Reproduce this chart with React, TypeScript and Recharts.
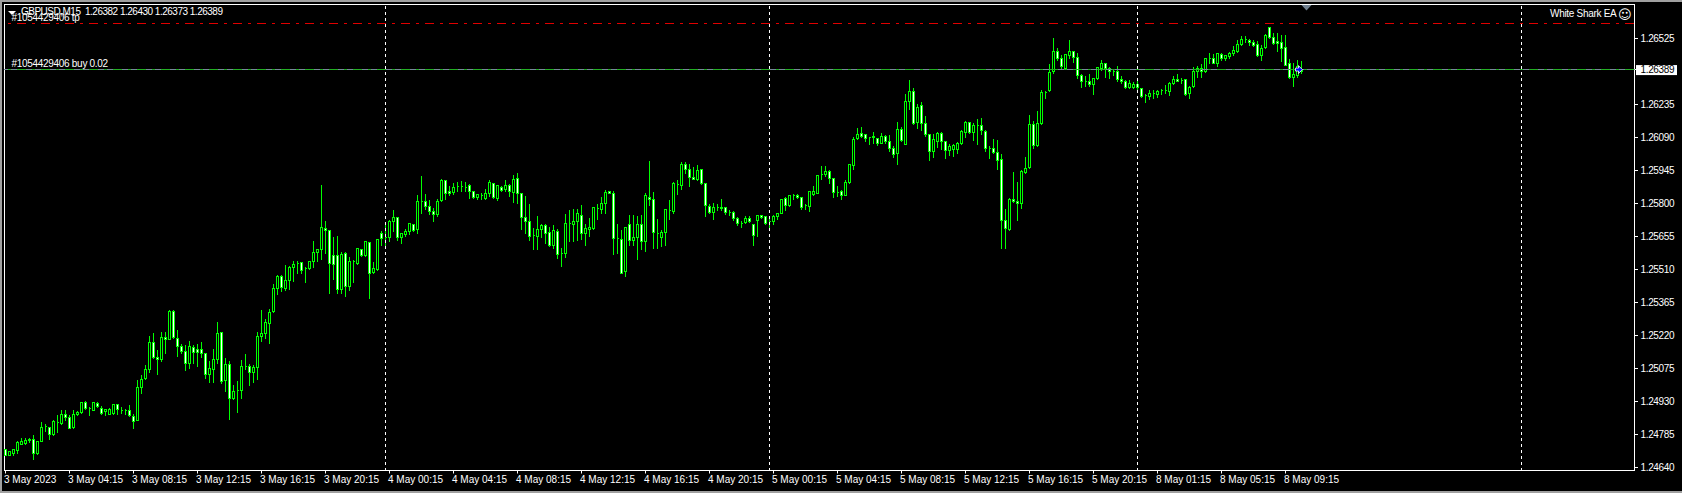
import {
  Bar,
  ComposedChart,
  ReferenceDot,
  ReferenceLine,
  XAxis,
  YAxis,
} from "recharts";

// Prices are in points above 1.24000 (1 point = 0.00001)
const PRICE_BASE = 1.24;

const opens = [
  718,694,700,715,743,747,759,765,700,754,819,817,785,838,835,875,
  861,814,872,882,927,901,891,921,901,885,875,878,919,891,889,892,
  866,847,992,1031,1071,1191,1123,1113,1213,1204,1326,1208,1173,1151,1096,1169,
  1160,1160,1143,1049,1072,1113,1232,1022,1094,945,979,979,1084,1084,1058,1080,
  1216,1228,1274,1326,1427,1481,1427,1460,1519,1538,1542,1516,1513,1545,1585,1597,
  1692,1683,1572,1572,1424,1580,1435,1545,1538,1600,1573,1629,1497,1512,1670,1652,
  1652,1721,1740,1652,1664,1677,1709,1687,1809,1810,1787,1766,1752,1812,1903,1851,
  1848,1875,1873,1872,1878,1854,1827,1835,1822,1846,1888,1821,1870,1860,1878,1848,
  1911,1846,1740,1722,1658,1655,1684,1703,1674,1616,1679,1582,1580,1711,1706,1721,
  1749,1667,1684,1690,1777,1772,1799,1854,1846,1646,1643,1501,1709,1638,1652,1709,
  1633,1828,1819,1667,1652,1674,1769,1764,1884,1881,1973,1952,1916,1904,1951,1887,
  1787,1761,1784,1784,1784,1762,1762,1734,1714,1718,1733,1709,1725,1746,1743,1722,
  1721,1743,1758,1824,1791,1834,1837,1828,1790,1787,1840,1846,1926,1926,1941,1911,
  1848,1851,1835,1892,1967,2086,2108,2103,2090,2096,2086,2065,2097,2074,2043,2021,
  2127,2059,2248,2294,2155,2232,2152,2105,2029,2071,2109,2073,2033,2036,2036,2064,
  2112,2158,2112,2144,2144,2118,2042,2043,2026,1995,1727,1687,1819,1810,1802,1938,
  1957,2149,2054,2150,2289,2295,2379,2469,2436,2395,2450,2469,2443,2364,2338,2336,
  2323,2348,2392,2417,2395,2380,2382,2346,2338,2310,2310,2324,2307,2273,2270,2285,
  2278,2297,2297,2292,2326,2346,2341,2344,2282,2314,2379,2393,2379,2437,2437,2417,
  2456,2437,2446,2458,2468,2499,2521,2516,2510,2500,2449,2486,2572,2530,2512,2509,
  2487,2417,2354,2365,2382,
];

const highs = [
  721,712,725,759,773,773,773,787,759,841,835,820,850,872,894,894,
  872,894,889,930,933,908,929,929,911,899,905,921,923,908,901,919,
  879,1025,1047,1091,1219,1232,1160,1236,1239,1336,1336,1248,1186,1179,1198,1179,
  1186,1195,1145,1110,1164,1283,1236,1125,1110,1003,1022,1113,1143,1099,1091,1238,
  1333,1296,1340,1450,1487,1487,1534,1526,1548,1548,1545,1523,1550,1640,1604,1882,
  1724,1684,1655,1661,1589,1589,1567,1556,1608,1604,1640,1633,1545,1646,1680,1721,
  1728,1772,1743,1673,1692,1718,1714,1838,1922,1843,1819,1784,1821,1909,1904,1878,
  1892,1897,1903,1897,1887,1859,1846,1850,1868,1907,1892,1882,1878,1907,1889,1930,
  1935,1848,1835,1799,1696,1746,1711,1714,1699,1706,1692,1608,1755,1775,1780,1780,
  1794,1714,1740,1787,1799,1831,1860,1857,1857,1714,1684,1699,1750,1750,1746,1750,
  1848,1988,1851,1736,1684,1780,1819,1897,1907,1986,1985,1977,1963,1974,1955,1889,
  1802,1805,1799,1821,1787,1775,1769,1743,1725,1746,1746,1711,1750,1750,1746,1736,
  1752,1763,1821,1831,1838,1846,1843,1831,1799,1857,1878,1925,1967,1967,1948,1916,
  1878,1860,1907,1977,2095,2136,2141,2106,2095,2115,2092,2112,2103,2105,2056,2162,
  2138,2285,2344,2311,2238,2250,2185,2109,2109,2116,2116,2077,2065,2065,2073,2124,
  2165,2160,2156,2175,2177,2124,2056,2087,2083,2018,1780,1828,1942,1898,1951,2007,
  2193,2165,2207,2300,2297,2417,2528,2484,2456,2461,2522,2475,2464,2370,2361,2370,
  2355,2402,2434,2420,2402,2390,2405,2361,2344,2344,2338,2355,2311,2285,2300,2303,
  2303,2308,2323,2336,2363,2370,2352,2346,2317,2402,2405,2417,2439,2464,2458,2461,
  2464,2453,2468,2497,2522,2537,2537,2527,2519,2516,2500,2549,2575,2553,2553,2543,
  2541,2437,2421,2434,2430,
];

const lows = [
  692,692,692,703,740,740,750,674,696,754,797,762,779,794,829,847,
  810,811,870,879,894,867,889,902,875,869,872,875,872,876,872,864,
  811,847,964,1025,1058,1121,1047,1106,1140,1201,1207,1128,1140,1066,1074,1099,
  1084,1125,1033,1014,1014,1099,1011,974,850,940,882,943,1072,999,1014,1025,
  1194,1208,1184,1321,1399,1413,1418,1424,1456,1491,1494,1453,1509,1520,1545,1553,
  1582,1403,1468,1403,1403,1392,1418,1453,1531,1567,1567,1383,1494,1506,1618,1608,
  1633,1677,1638,1623,1655,1665,1676,1667,1758,1772,1750,1721,1743,1809,1816,1834,
  1840,1853,1853,1853,1821,1821,1816,1816,1816,1831,1822,1812,1851,1853,1831,1805,
  1802,1687,1670,1638,1599,1597,1652,1623,1611,1604,1560,1523,1564,1633,1633,1638,
  1643,1618,1655,1684,1728,1758,1758,1843,1575,1582,1491,1479,1614,1618,1553,1600,
  1589,1790,1602,1604,1611,1618,1728,1755,1838,1860,1933,1875,1904,1901,1882,1743,
  1758,1728,1769,1769,1750,1746,1725,1702,1693,1711,1717,1614,1655,1736,1706,1687,
  1706,1728,1755,1768,1787,1819,1821,1772,1772,1765,1834,1843,1904,1919,1889,1827,
  1831,1816,1834,1889,1948,2080,2092,2073,2058,2062,2056,2062,2062,2027,2001,1970,
  2073,2058,2212,2146,2131,2121,2097,1989,2004,2048,2036,1998,2010,2007,2018,2058,
  2092,2109,2077,2058,2102,2029,1998,2018,1952,1604,1604,1681,1807,1725,1777,1933,
  1954,2042,2051,2146,2264,2292,2370,2431,2395,2390,2439,2420,2351,2311,2314,2314,
  2278,2346,2385,2355,2351,2365,2336,2326,2307,2308,2305,2300,2266,2244,2259,2263,
  2267,2279,2285,2273,2322,2335,2326,2273,2264,2311,2352,2355,2376,2414,2414,2402,
  2431,2428,2437,2452,2464,2496,2508,2497,2490,2446,2428,2483,2525,2500,2468,2424,
  2405,2351,2314,2354,2373,
];

const closes = [
  694,709,718,751,756,760,765,703,753,817,819,784,844,838,875,861,
  811,873,883,927,899,901,924,907,879,897,897,916,897,891,889,869,
  842,993,1028,1072,1191,1123,1115,1213,1204,1326,1210,1172,1150,1099,1173,1145,
  1145,1143,1049,1074,1116,1230,1019,1094,943,976,979,1084,1084,1058,1080,1217,
  1230,1279,1323,1428,1481,1432,1462,1520,1534,1538,1506,1516,1545,1585,1597,1695,
  1682,1537,1534,1424,1577,1435,1545,1545,1604,1573,1633,1494,1516,1643,1648,1652,
  1720,1740,1652,1670,1677,1711,1681,1810,1809,1787,1765,1752,1810,1903,1844,1844,
  1872,1875,1873,1872,1853,1828,1838,1835,1846,1894,1825,1878,1856,1881,1853,1907,
  1844,1739,1721,1655,1658,1686,1702,1670,1616,1680,1575,1582,1714,1711,1722,1755,
  1667,1692,1696,1781,1777,1799,1850,1846,1646,1646,1494,1695,1638,1652,1706,1635,
  1835,1819,1673,1667,1674,1775,1769,1887,1884,1974,1952,1916,1907,1947,1887,1793,
  1761,1784,1784,1778,1761,1762,1733,1714,1714,1733,1722,1658,1747,1739,1711,1722,
  1745,1758,1818,1791,1834,1834,1825,1783,1790,1853,1853,1922,1926,1941,1911,1848,
  1848,1837,1894,1970,2083,2105,2097,2086,2090,2090,2062,2096,2073,2043,2014,2127,
  2077,2250,2294,2150,2223,2152,2105,2029,2080,2106,2073,2033,2052,2056,2064,2118,
  2158,2112,2144,2144,2121,2043,2042,2026,1991,1725,1692,1819,1810,1802,1941,1955,
  2149,2056,2153,2289,2289,2377,2469,2436,2402,2456,2469,2443,2361,2336,2338,2323,
  2348,2399,2417,2392,2380,2380,2344,2335,2310,2329,2324,2311,2270,2273,2285,2285,
  2292,2297,2297,2329,2346,2338,2341,2278,2311,2382,2392,2382,2437,2437,2417,2458,
  2436,2449,2458,2471,2500,2522,2521,2508,2494,2450,2483,2538,2530,2503,2503,2481,
  2406,2354,2368,2402,2389,
];

// one label every 16 bars (4 hours)
const timeLabels = [
  "3 May 2023", "3 May 04:15", "3 May 08:15", "3 May 12:15", "3 May 16:15", "3 May 20:15",
  "4 May 00:15", "4 May 04:15", "4 May 08:15", "4 May 12:15", "4 May 16:15", "4 May 20:15",
  "5 May 00:15", "5 May 04:15", "5 May 08:15", "5 May 12:15", "5 May 16:15", "5 May 20:15",
  "8 May 01:15", "8 May 05:15", "8 May 09:15",
];
const BARS_PER_LABEL = 16;

const priceTicks = [640, 785, 930, 1075, 1220, 1365, 1510, 1655, 1800, 1945, 2090, 2235, 2389, 2525];

// day separators, as bar numbers; the last one is in the empty space right of the data
const daySeparators = [95, 191, 283, 379];

const BID = 2389;
const TAKE_PROFIT = 2593;
const TOTAL_SLOTS = 408; // bars visible in the window, the rest is empty

const FONT = '"Liberation Sans", Arial, sans-serif';
const GREEN = "#00ff00";

const rows = Array.from({ length: TOTAL_SLOTS }, (_, i) => ({
  idx: i,
  open: opens[i],
  high: highs[i],
  low: lows[i],
  close: closes[i],
}));

const xTicks = timeLabels.map((_, i) => i * BARS_PER_LABEL);

const snap = (v: number) => Math.round(v - 0.5) + 0.5;

function Candle(props: any) {
  const { x, y, width, height, payload } = props;
  if (!payload || payload.open === undefined || !height) return null;
  const { open, high, low, close } = payload;
  const cx = snap(x + width / 2);
  const perPoint = high === low ? 0 : height / (high - low);
  const top = snap(y + (high - Math.max(open, close)) * perPoint);
  const bottom = snap(y + (high - Math.min(open, close)) * perPoint);
  const bear = close < open;
  return (
    <g shapeRendering="crispEdges">
      <line x1={cx} x2={cx} y1={snap(y)} y2={snap(y + height)} stroke={GREEN} />
      <path
        d={`M${cx - 1} ${top}H${cx + 1}V${bottom}H${cx - 1}Z`}
        fill={bear ? "#ffffff" : "#000000"}
        stroke={GREEN}
      />
    </g>
  );
}

function TimeTick({ x, y, payload }: any) {
  return (
    <text x={x - 1.5} y={y + 9.5} fill="#fff" fontSize={10} fontFamily={FONT} textAnchor="start">
      {timeLabels[payload.value / BARS_PER_LABEL]}
    </text>
  );
}

function PriceTick({ x, y, payload }: any) {
  const isBid = payload.value === BID;
  const label = (PRICE_BASE + payload.value / 100000).toFixed(5);
  return (
    <g>
      <line x1={x - 1} x2={x + 2} y1={y} y2={y} stroke="#fff" shapeRendering="crispEdges" />
      {isBid && <rect x={x + 0.5} y={y - 4.5} width={41} height={10} fill="#fff" />}
      <text
        x={x + 5}
        y={y + 3.5}
        fill={isBid ? "#000" : "#fff"}
        fontSize={10}
        letterSpacing={-0.35}
        fontFamily={FONT}
      >
        {label}
      </text>
    </g>
  );
}

function BuyArrow({ cx, cy }: any) {
  return (
    <path
      transform={`translate(${cx} ${cy})`}
      d="M-2 -1.5H1V-4L4.8 0L1 4V1.5H-2Z"
      fill="#0000ff"
      stroke="#fff"
      strokeWidth={0.8}
    />
  );
}

function ShiftMarker({ cx, cy }: any) {
  return (
    <path transform={`translate(${cx + 1} ${cy + 0.5})`} d="M-5 0H5L0 5.5Z" fill="#708090" />
  );
}

const textStyle = {
  position: "absolute" as const,
  color: "#fff",
  fontFamily: FONT,
  fontSize: 10,
  lineHeight: "12px",
  whiteSpace: "pre" as const,
};

export default function App() {
  return (
    <div
      style={{
        position: "absolute",
        left: 0,
        top: 0,
        width: 1682,
        height: 493,
        background: "#000",
        overflow: "hidden",
      }}
    >
      {/* window edges */}
      <div style={{ position: "absolute", left: 0, top: 0, width: 1682, height: 2, background: "#a0a0a0" }} />
      <div style={{ position: "absolute", left: 0, top: 0, width: 2, height: 493, background: "#a0a0a0" }} />
      <div style={{ position: "absolute", left: 0, top: 491, width: 1682, height: 2, background: "#a0a0a0" }} />
      {/* chart frame */}
      <div
        style={{
          position: "absolute",
          left: 4,
          top: 4,
          width: 1629,
          height: 465,
          border: "1px solid #fff",
        }}
      />
      <div style={{ position: "absolute", left: 0, top: 0 }}>
        <ComposedChart
          width={1682}
          height={493}
          data={rows}
          barCategoryGap={0}
          margin={{ top: 4.5, right: 0, bottom: 0, left: 3.5 }}
        >
          <XAxis
            dataKey="idx"
            type="category"
            ticks={xTicks}
            interval={0}
            height={22.5}
            axisLine={false}
            tickLine={{ stroke: "#fff" }}
            tickSize={3}
            tickMargin={0}
            tick={<TimeTick />}
          />
          <YAxis
            orientation="right"
            type="number"
            domain={[627, 2675]}
            ticks={priceTicks}
            interval={0}
            width={46.5}
            axisLine={false}
            tickLine={false}
            tickSize={0}
            tickMargin={0}
            tick={<PriceTick />}
            allowDataOverflow
          />
          <ReferenceLine y={BID} stroke="#778899" shapeRendering="crispEdges" />
          <ReferenceLine
            y={BID}
            stroke="#22b022"
            strokeDasharray="9 6 3 6"
            strokeDashoffset={-1.5}
            shapeRendering="crispEdges"
          />
          <ReferenceLine
            y={TAKE_PROFIT}
            stroke="#e00000"
            strokeDasharray="9 6 3 6"
            strokeDashoffset={-1.5}
            shapeRendering="crispEdges"
          />
          {daySeparators.map((bar) => (
            <ReferenceLine
              key={bar}
              x={bar}
              stroke="#fff"
              strokeDasharray="3 3"
              shapeRendering="crispEdges"
            />
          ))}
          <Bar
            dataKey={(d: any) => (d.open === undefined ? null : [d.low, d.high])}
            isAnimationActive={false}
            shape={(p: any) => <Candle {...p} />}
          />
          <ReferenceDot x={323} y={BID} r={4} shape={(p: any) => <BuyArrow {...p} />} />
          <ReferenceDot x={325} y={2675} r={4} shape={(p: any) => <ShiftMarker {...p} />} />
        </ComposedChart>
      </div>

      {/* MT4 overlay texts */}
      <div
        style={{
          position: "absolute",
          left: 8,
          top: 11,
          width: 8,
          height: 4,
          background: "#fff",
          clipPath: "polygon(0 0, 100% 0, 50% 100%)",
        }}
      />
      <div style={{ ...textStyle, left: 21, top: 6, letterSpacing: -0.5 }}>GBPUSD,M15  1.26382 1.26430 1.26373 1.26389</div>
      <div style={{ ...textStyle, left: 11.5, top: 11.5, letterSpacing: -0.3 }}>#1054429406 tp</div>
      <div style={{ ...textStyle, left: 11.5, top: 58, letterSpacing: -0.3 }}>#1054429406 buy 0.02</div>
      <div style={{ ...textStyle, left: 1550, top: 7.5, letterSpacing: -0.3 }}>White Shark EA</div>
      <div style={{ ...textStyle, left: 1618, top: 7, fontSize: 13, lineHeight: "15px", fontFamily: '"DejaVu Sans"' }}>☺</div>
    </div>
  );
}
